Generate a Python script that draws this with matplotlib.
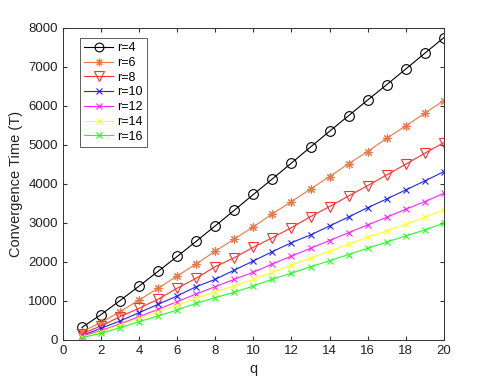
import numpy as np
import matplotlib.pyplot as plt

plt.rcParams['font.family'] = ['Liberation Sans', 'DejaVu Sans']

q = list(range(1, 21))

# values
r4 = [320, 650, 1010, 1380, 1760, 2140, 2530, 2925, 3325, 3730,
      4130, 4535, 4945, 5350, 5750, 6150, 6545, 6945, 7350, 7750]
r6 = [215, 444, 726, 1026, 1325, 1641, 1949, 2275, 2590, 2900,
      3235, 3546, 3872, 4188, 4520, 4830, 5170, 5487, 5812, 6136]
r8 = [160, 359, 597, 813, 1044, 1326, 1582, 1879, 2110, 2377,
      2623, 2879, 3162, 3418, 3692, 3956, 4231, 4505, 4787, 5059]
r10 = [110, 300, 487, 700, 915, 1128, 1367, 1556, 1790, 2026,
       2265, 2495, 2692, 2923, 3154, 3392, 3615, 3846, 4077, 4315]
r12 = [95, 238, 410, 597, 787, 982, 1179, 1367, 1556, 1736,
       1949, 2150, 2350, 2550, 2751, 2949, 3146, 3351, 3546, 3761]
r14 = [75, 213, 385, 556, 726, 897, 1069, 1239, 1385, 1556,
       1736, 1915, 2095, 2275, 2455, 2633, 2795, 2966, 3146, 3333]
r16 = [60, 172, 315, 470, 615, 769, 941, 1085, 1223, 1385,
       1556, 1715, 1874, 2032, 2191, 2350, 2509, 2667, 2821, 2991]

asterisk = (8, 2, 0)
series = [
    ('r=4', r4, 'k', 'o', 7),
    ('r=6', r6, '#EE7744', asterisk, 6),
    ('r=8', r8, '#FF3030', 'v', 7.5),
    ('r=10', r10, '#2222FF', 'x', 5),
    ('r=12', r12, '#FF22FF', 'x', 5),
    ('r=14', r14, '#FFFF22', 'x', 5),
    ('r=16', r16, '#22FF22', 'x', 5),
]

fig = plt.figure(figsize=(4.91, 3.82), dpi=100)
ax = fig.add_axes([0.128, 0.110, 0.776, 0.817])

for label, vals, color, marker, ms in series:
    mfc = 'none' if marker in ('o', 'v') else color
    ax.plot(q, vals, color=color, marker=marker, markersize=ms,
            markerfacecolor=mfc, markeredgewidth=0.8, linewidth=0.8, label=label)

ax.set_xlim(0, 20)
ax.set_ylim(0, 8000)
ax.set_xticks(range(0, 21, 2))
ax.set_yticks(range(0, 8001, 1000))
ax.tick_params(direction='in', top=True, right=True, labelsize=9.5, length=3,
               color='#333333', labelcolor='#222222')
for s in ax.spines.values():
    s.set_color('#333333')
    s.set_linewidth(0.7)

ax.set_xlabel('q', fontsize=10.5, color='#222222')
ax.set_ylabel('Convergence Time (T)', fontsize=10.5, color='#222222')

leg = ax.legend(loc='upper left', bbox_to_anchor=(0.045, 0.968), borderaxespad=0,
                fontsize=9, frameon=True, fancybox=False, edgecolor='#333333',
                handlelength=2.3, labelspacing=0.22, borderpad=0.35,
                handletextpad=0.3, markerscale=0.9)
leg.get_frame().set_linewidth(0.7)

plt.savefig('out.png', dpi=100)
